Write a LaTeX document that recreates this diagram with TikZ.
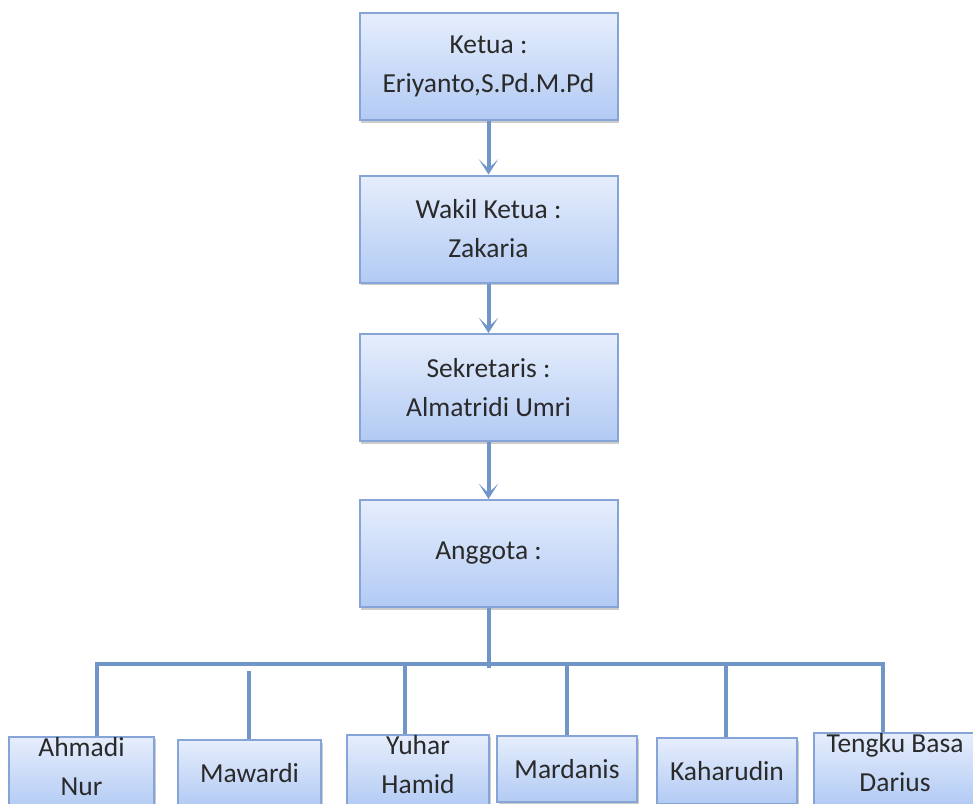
\documentclass[tikz,border=0pt]{standalone}
\usepackage{fontspec}
\setmainfont{Carlito}
\usetikzlibrary{shadows,arrows.meta}
\definecolor{boxtop}{HTML}{E6EEFC}
\definecolor{boxbot}{HTML}{B2CAF4}
\definecolor{boxline}{HTML}{86A5D6}
\definecolor{conn}{HTML}{6F95C9}
\definecolor{txt}{HTML}{2A2A2A}
\newcommand{\lift}{\rule[-14pt]{0pt}{14pt}}
\begin{document}
\begin{tikzpicture}[x=1pt,y=-1pt,
  box/.style={draw=boxline, line width=2pt, top color=boxtop, bottom color=boxbot,
    inner sep=0pt, align=center, text=txt,
    font=\fontsize{27.5}{39}\selectfont,
    drop shadow={shadow xshift=1.5pt, shadow yshift=-2.5pt, opacity=0.2, fill=black}},
  mainbox/.style={box, minimum width=258, minimum height=107},
  member/.style={box, minimum height=66},
  conn/.style={draw=conn, line width=4pt},
  arr/.style={conn, -{Stealth[length=15pt,width=19pt,inset=9pt]}}]
\useasboundingbox (0,0) rectangle (973,803);
\clip (0,0) rectangle (973,803);
\fill[white] (0,0) rectangle (973,803);

\node[mainbox] (ketua) at (488.5,66.5) {Ketua :\\Eriyanto,S.Pd.M.Pd};
\node[mainbox] (wakil) at (488.5,229) {Wakil Ketua :\\Zakaria};
\node[mainbox] (sekretaris) at (488.5,387.5) {Sekretaris :\\Almatridi Umri};
\node[mainbox] (anggota) at (488.5,553.5) {Anggota :};

\node[member, minimum width=145] (ahmadi) at (81.5,773) {Ahmadi\\Nur\lift};
\node[member, minimum width=143] (mawardi) at (249.5,773) {Mawardi};
\node[member, minimum width=142] (yuhar) at (418,771) {Yuhar\\Hamid\lift};
\node[member, minimum width=140] (mardanis) at (567,769) {Mardanis};
\node[member, minimum width=140] (kaharudin) at (727,771) {Kaharudin};
\node[member, minimum width=162] (tengku) at (895,769) {Tengku Basa\\Darius\lift};

\draw[arr] (ketua.south) -- (wakil.north);
\draw[arr] (wakil.south) -- (sekretaris.north);
\draw[arr] (sekretaris.south) -- (anggota.north);

\coordinate (j) at (489,668);
\coordinate (b1) at (97,664);
\coordinate (b2) at (249,671);
\coordinate (b3) at (405,664);
\coordinate (b4) at (567,664);
\coordinate (b5) at (726,664);
\coordinate (b6) at (883,664);

\draw[conn] (anggota.south) -- (anggota.south |- j);
\draw[conn] (b1 |- ahmadi.north) -- (b1) -- (b6) -- (b6 |- tengku.north);
\draw[conn] (b2) -- (b2 |- mawardi.north);
\draw[conn] (b3) -- (b3 |- yuhar.north);
\draw[conn] (b4) -- (b4 |- mardanis.north);
\draw[conn] (b5) -- (b5 |- kaharudin.north);
\end{tikzpicture}
\end{document}
